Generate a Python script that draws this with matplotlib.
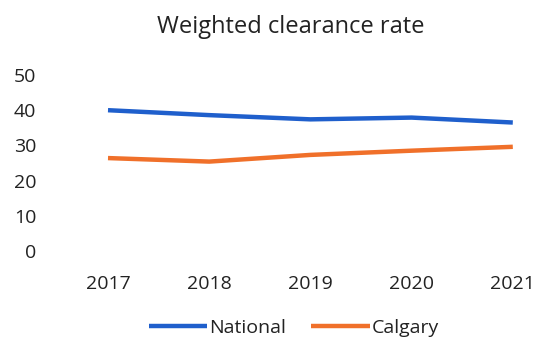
import matplotlib
matplotlib.use("Agg")
import matplotlib.pyplot as plt

years = [2017, 2018, 2019, 2020, 2021]
national = [40.0, 38.6, 37.4, 37.9, 36.5]
calgary = [26.4, 25.4, 27.3, 28.5, 29.6]
yticks = [0, 10, 20, 30, 40, 50]

plt.rcParams['font.family'] = ['Open Sans', 'DejaVu Sans']

fig = plt.figure(figsize=(5.37, 3.47), dpi=100)
ax = fig.add_axes([60/537, 96/347, 470/537, 176/347])
ax.plot(years, national, color='#1F5FCC', lw=3.2, label='National', solid_capstyle='butt')
ax.plot(years, calgary, color='#F0702A', lw=3.2, label='Calgary', solid_capstyle='butt')
unit = 101.2
ax.set_xlim(2017 - 48/unit, 2017 + 422/unit)
ax.set_ylim(0, 50)
ax.set_yticks(yticks)
ax.set_xticks(years)
ax.set_xticklabels([str(y) for y in years])
for s in ax.spines.values():
    s.set_visible(False)
ax.tick_params(length=0, labelsize=14, colors='#222222')
ax.tick_params(axis='x', pad=17)
ax.tick_params(axis='y', pad=17)
fig.text(291/537, 1 - 27/347, 'Weighted clearance rate', ha='center', va='center', fontsize=17, color='#222222')
fig.legend(loc='center', bbox_to_anchor=(294/537, 1 - 328/347), ncol=2, frameon=False,
           fontsize=14, handlelength=3.0, handletextpad=0.1, columnspacing=1.3, labelcolor='#222222')
fig.savefig('out.png', dpi=100)
